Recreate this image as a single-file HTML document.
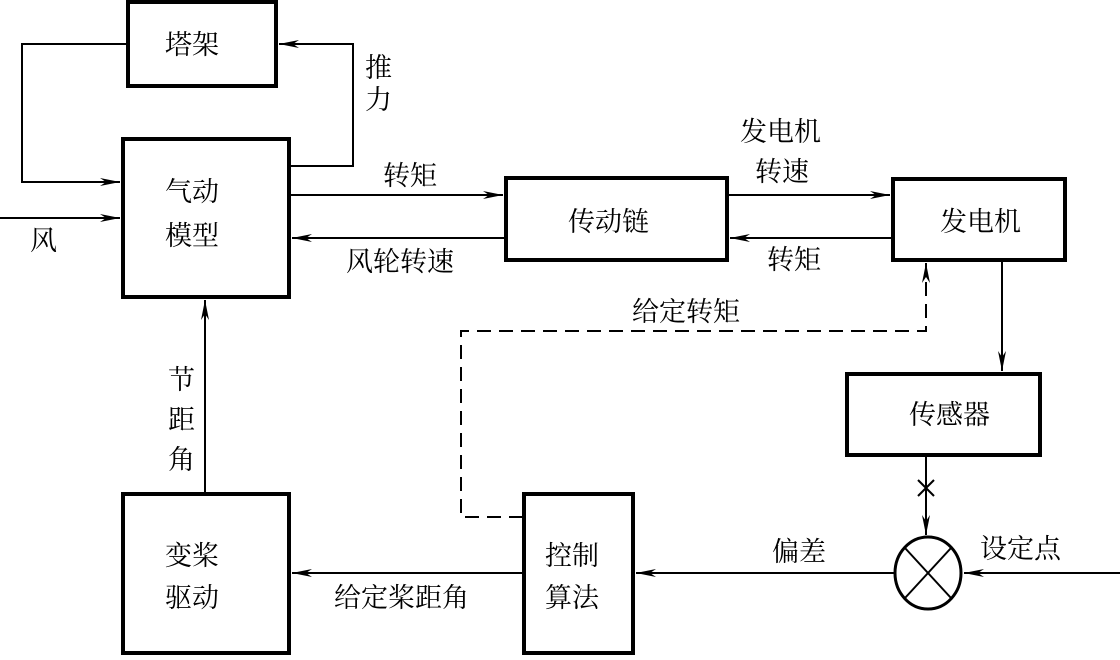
<!DOCTYPE html>
<html><head><meta charset="utf-8"><style>
html,body{margin:0;padding:0;background:#fff;}
svg text{font-family:"Liberation Serif","Noto Serif CJK SC","Noto Sans CJK SC",serif;font-size:27px;fill:#000;}
</style></head><body>
<svg width="1120" height="655" viewBox="0 0 1120 655" xmlns="http://www.w3.org/2000/svg">
<defs><marker id="a" markerWidth="22" markerHeight="10" refX="20" refY="5" orient="auto" markerUnits="userSpaceOnUse"><path d="M0,1 L20,5 L0,9 L6,5 Z" fill="#000"/></marker></defs>
<g fill="none" stroke="#000" stroke-width="4">
<rect x="128" y="2" width="148" height="84"/>
<rect x="123" y="139" width="166" height="158"/>
<rect x="506" y="178" width="221" height="82"/>
<rect x="893" y="179" width="172" height="81"/>
<rect x="847" y="374" width="193" height="81"/>
<rect x="123" y="494" width="166" height="159"/>
<rect x="524" y="494" width="109" height="159"/>
<ellipse cx="928" cy="573" rx="33" ry="36" stroke-width="3"/>
</g>
<g fill="none" stroke="#000" stroke-width="2">
<line x1="905" y1="548" x2="951" y2="598"/><line x1="951" y1="548" x2="905" y2="598"/>
<path d="M127,44 H22 V182 H120" marker-end="url(#a)"/>
<path d="M0,218 H120" marker-end="url(#a)"/>
<path d="M290,166 H353 V44 H279" marker-end="url(#a)"/>
<path d="M290,195 H503" marker-end="url(#a)"/>
<path d="M505,238 H292" marker-end="url(#a)"/>
<path d="M728,195 H890" marker-end="url(#a)"/>
<path d="M892,238 H730" marker-end="url(#a)"/>
<path d="M1002,261 V371" marker-end="url(#a)"/>
<path d="M926,456 V535" marker-end="url(#a)"/>
<line x1="918" y1="480" x2="934" y2="496"/><line x1="934" y1="480" x2="918" y2="496"/>
<path d="M1120,573 H964" marker-end="url(#a)"/>
<path d="M895,573 H636" marker-end="url(#a)"/>
<path d="M523,573 H292" marker-end="url(#a)"/>
<path d="M205,493 V300" marker-end="url(#a)"/>
<path d="M523,517 H461 V331 H926 V263" stroke-dasharray="14,8" marker-end="url(#a)"/>
</g>
<text x="165" y="54">塔架</text>
<text x="165" y="201">气动</text>
<text x="165" y="245">模型</text>
<text x="365" y="77">推</text>
<text x="365" y="109">力</text>
<text x="30" y="250">风</text>
<text x="383" y="185">转矩</text>
<text x="346" y="271">风轮转速</text>
<text x="568" y="231">传动链</text>
<text x="740" y="141">发电机</text>
<text x="755" y="181">转速</text>
<text x="767" y="269">转矩</text>
<text x="940" y="231">发电机</text>
<text x="632" y="321">给定转矩</text>
<text x="909" y="424">传感器</text>
<text x="168" y="389">节</text>
<text x="168" y="429">距</text>
<text x="168" y="469">角</text>
<text x="165" y="565">变桨</text>
<text x="165" y="607">驱动</text>
<text x="545" y="565">控制</text>
<text x="545" y="607">算法</text>
<text x="334" y="607">给定桨距角</text>
<text x="772" y="561">偏差</text>
<text x="980" y="558">设定点</text>
</svg>
</body></html>
